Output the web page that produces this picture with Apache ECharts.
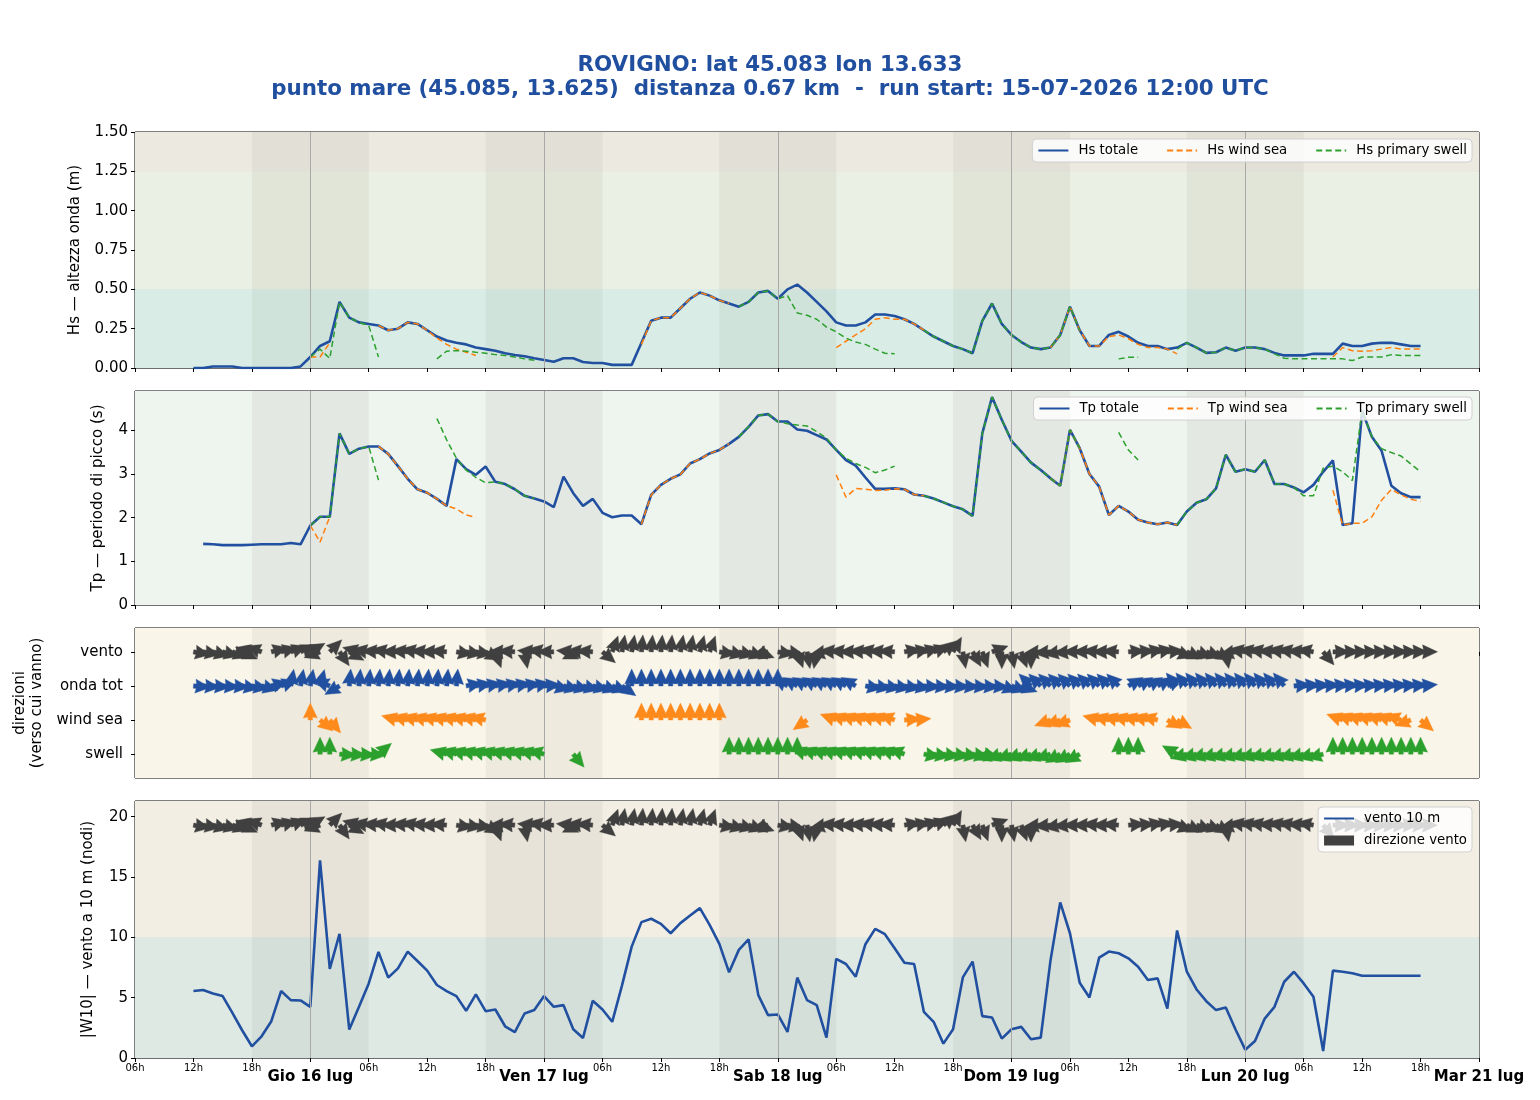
<!DOCTYPE html>
<html><head><meta charset="utf-8">
<script src="https://cdn.jsdelivr.net/npm/echarts@6/dist/echarts.min.js"></script>
<style>html,body{margin:0;padding:0;background:#fff}#c{width:1540px;height:1100px}</style>
</head><body><div id="c"></div>
<script>
const N = null;
// hourly data, index 0 = 15-07-2026 12:00 UTC
const hsTot = [
0.00,0.00,0.01,0.01,0.01,0.00,0.00,0.00,0.00,0.00,0.00,0.01,
0.07,0.14,0.17,0.42,0.32,0.29,0.28,0.27,0.24,0.25,0.29,0.28,
0.24,0.20,0.175,0.16,0.15,0.13,0.12,0.11,0.094,0.083,0.075,0.062,
0.051,0.04,0.062,0.062,0.038,0.032,0.032,0.02,0.02,0.02,0.16,0.30,
0.32,0.32,0.38,0.44,0.48,0.46,0.43,0.41,0.39,0.42,0.48,0.49,
0.44,0.50,0.53,0.48,0.42,0.36,0.29,0.27,0.27,0.29,0.34,0.34,
0.33,0.31,0.28,0.24,0.20,0.17,0.14,0.12,0.094,0.30,0.41,0.28,
0.21,0.165,0.13,0.12,0.13,0.21,0.39,0.24,0.14,0.14,0.21,0.23,
0.20,0.16,0.14,0.14,0.12,0.13,0.16,0.13,0.096,0.10,0.13,0.11,
0.13,0.13,0.12,0.096,0.08,0.08,0.08,0.09,0.09,0.09,0.155,0.14,
0.14,0.155,0.16,0.16,0.15,0.14,0.14];
const hsWind = [
N,N,N,N,N,N,N,N,N,N,N,N,
0.07,0.07,0.16,N,N,N,N,0.27,0.24,0.25,0.29,0.28,
0.24,0.19,0.15,0.12,0.10,0.08,N,N,N,N,N,N,
N,N,N,N,N,N,N,N,N,N,0.15,0.30,
0.32,0.32,0.38,0.44,0.48,0.46,0.43,0.41,N,N,N,N,
N,N,N,0.20,N,N,0.13,0.17,0.21,0.25,0.31,0.32,
0.31,0.31,0.28,0.24,N,N,N,N,N,N,N,N,
N,N,N,N,0.13,0.21,0.39,0.24,0.14,0.14,0.20,0.21,
0.186,0.15,0.13,0.13,0.12,0.09,N,N,N,N,N,N,
N,N,N,N,N,N,N,N,N,0.07,0.13,0.11,
0.107,0.11,0.12,0.13,0.12,0.12,0.12];
const hsSwell = [
N,N,N,N,N,N,N,N,N,N,N,N,
0.07,0.12,0.06,0.42,0.32,0.29,0.27,0.07,N,N,N,N,
N,0.058,0.107,0.11,0.107,0.10,0.094,0.085,0.08,0.07,0.058,0.05,
N,N,N,N,N,N,N,N,N,N,N,N,
N,N,N,N,N,N,N,N,0.39,0.42,0.48,0.49,
0.44,0.46,0.35,0.335,0.31,0.26,0.23,0.19,0.165,0.15,0.12,0.094,
0.09,N,N,0.24,0.20,0.17,0.14,0.12,0.094,0.30,0.41,0.28,
0.21,0.165,0.13,0.12,0.13,0.21,0.39,0.24,N,N,N,0.058,
0.068,0.068,N,N,N,0.12,0.16,0.13,0.096,0.10,0.13,0.11,
0.13,0.13,0.12,0.09,0.062,0.058,0.058,0.058,0.058,0.058,0.058,0.047,
0.07,0.07,0.07,0.085,0.08,0.08,0.08];
const tpTot = [
N,1.40,1.39,1.37,1.37,1.37,1.38,1.39,1.39,1.39,1.42,1.39,
1.82,2.02,2.02,3.93,3.46,3.58,3.63,3.63,3.46,3.18,2.89,2.65,
2.57,2.43,2.27,3.34,3.11,2.98,3.17,2.82,2.77,2.65,2.50,2.44,
2.37,2.24,2.94,2.56,2.27,2.43,2.11,2.01,2.05,2.05,1.85,2.52,
2.75,2.89,2.99,3.24,3.34,3.47,3.55,3.69,3.85,4.08,4.34,4.37,
4.20,4.20,4.02,3.99,3.89,3.79,3.55,3.32,3.19,2.92,2.66,2.66,
2.67,2.65,2.53,2.50,2.44,2.35,2.26,2.19,2.04,3.93,4.76,4.24,
3.76,3.51,3.26,3.09,2.90,2.73,4.01,3.59,3.00,2.71,2.06,2.27,
2.14,1.95,1.89,1.85,1.89,1.83,2.14,2.34,2.42,2.67,3.44,3.05,
3.11,3.05,3.32,2.77,2.77,2.69,2.58,2.75,3.05,3.31,1.83,1.87,
4.45,3.85,3.53,2.73,2.56,2.47,2.47];
const tpWind = [
N,N,N,N,N,N,N,N,N,N,N,N,
1.82,1.44,2.02,N,N,N,N,3.63,3.46,3.18,2.89,2.65,
2.57,2.43,2.27,2.20,2.06,2.01,N,N,N,N,N,N,
N,N,N,N,N,N,N,N,N,N,1.85,2.52,
2.75,2.89,2.99,3.24,3.34,3.47,3.55,3.69,N,N,N,N,
N,N,N,2.6,N,N,2.98,2.47,2.67,2.65,2.62,2.63,
2.66,2.65,2.53,2.50,N,N,N,N,N,N,N,N,
N,N,N,N,2.90,2.73,4.01,3.59,3.00,2.71,2.06,2.27,
2.14,1.95,1.89,1.85,1.89,1.83,N,N,N,N,N,N,
N,N,N,N,N,N,N,N,N,2.63,1.83,1.87,
1.87,2.02,2.40,2.65,2.52,2.42,2.37];
const tpSwell = [
N,N,N,N,N,N,N,N,N,N,N,N,
1.82,2.02,2.02,3.93,3.46,3.58,3.63,2.86,N,N,N,N,
N,4.27,3.78,3.36,3.09,2.92,2.80,2.82,2.77,2.65,2.50,2.44,
N,N,N,N,N,N,N,N,N,N,N,N,
N,N,N,N,N,N,N,N,3.85,4.08,4.34,4.37,
4.20,4.15,4.12,4.10,3.97,3.82,3.55,3.36,3.24,3.15,3.03,3.09,
3.18,N,N,2.50,2.44,2.35,2.26,2.19,2.04,3.93,4.76,4.24,
3.76,3.51,3.26,3.09,2.90,2.73,4.01,3.59,N,N,N,3.95,
3.55,3.32,N,N,N,1.83,2.14,2.34,2.42,2.67,3.44,3.05,
3.11,3.05,3.32,2.77,2.77,2.69,2.50,2.50,3.13,3.18,3.05,2.85,
4.45,3.85,3.58,3.49,3.41,3.23,3.05];
const windSpd = [
5.55,5.63,5.35,5.13,3.74,2.30,0.97,1.80,3.05,5.55,4.80,4.77,
4.24,16.39,7.38,10.29,2.36,4.24,6.18,8.79,6.66,7.43,8.82,8.04,
7.24,6.05,5.55,5.13,3.91,5.27,3.88,4.02,2.63,2.14,3.69,3.97,
5.13,4.24,4.38,2.38,1.66,4.74,4.02,3.00,6.0,9.23,11.26,11.54,
11.12,10.34,11.18,11.81,12.42,11.04,9.46,7.10,8.96,9.84,5.21,3.55,
3.61,2.16,6.66,4.80,4.38,1.69,8.21,7.79,6.74,9.43,10.70,10.26,
9.10,7.90,7.79,3.83,3.00,1.19,2.38,6.68,7.99,3.47,3.36,1.61,
2.38,2.58,1.55,1.69,8.07,12.90,10.34,6.24,5.02,8.32,8.82,8.68,
8.26,7.57,6.46,6.60,4.10,10.57,7.15,5.68,4.71,3.97,4.19,2.36,
0.69,1.41,3.27,4.24,6.32,7.15,6.18,5.07,0.58,7.24,7.15,7.02,
6.82,6.82,6.82,6.82,6.82,6.82,6.82];
// directions "verso cui vanno", compass degrees (0 = N, 90 = E)
const windDir = [
100,100,105,105,110,115,285,290,75,75,70,65,
60,250,45,145,120,285,280,275,280,270,275,280,
275,270,275,100,100,100,120,160,270,275,170,275,
280,270,115,275,275,275,130,20,10,10,5,5,
5,5,10,10,15,20,100,105,105,110,110,255,
100,100,160,170,190,260,275,275,270,275,280,275,
275,80,80,75,70,50,30,170,150,160,70,180,
170,160,180,265,265,260,265,270,270,275,270,275,
85,85,80,80,85,110,115,110,110,120,170,260,
280,280,280,275,280,280,275,280,140,90,90,90,
90,90,90,90,90,90,90];
const waveDir = [
95,95,95,95,95,100,100,105,75,70,10,10,
10,15,290,240,5,5,5,5,5,5,5,5,
5,5,5,5,80,80,80,80,80,80,80,80,
85,105,105,105,105,105,110,110,125,0,0,0,
0,0,0,0,0,0,0,0,0,0,0,0,
0,300,300,300,300,300,300,300,300,100,100,100,
100,100,100,95,95,95,95,95,95,95,95,110,
110,110,315,315,315,315,315,315,315,315,315,315,
60,60,60,60,60,320,320,320,320,320,320,320,
320,320,320,320,320,85,85,85,85,85,85,85,
85,85,85,85,85,85,85];
const seaDir = [
N,N,N,N,N,N,N,N,N,N,N,N,
0,130,140,N,N,N,N,N,N,285,285,285,
285,285,285,285,285,285,285,N,N,N,N,N,
N,N,N,N,N,N,N,N,N,N,0,0,
0,0,0,0,0,0,0,N,N,N,N,N,
N,N,N,235,N,N,290,290,290,290,290,290,
290,85,85,N,N,N,N,N,N,N,N,N,
N,N,N,N,250,250,250,N,N,285,285,285,
285,285,285,285,120,120,N,N,N,N,N,N,
N,N,N,N,N,N,N,N,N,N,290,290,
290,290,290,290,290,250,130];
const swellDir = [
N,N,N,N,N,N,N,N,N,N,N,N,
N,0,0,95,95,95,95,50,N,N,N,N,
N,N,285,285,285,285,285,285,285,285,285,285,
285,N,N,140,N,N,N,N,N,N,N,N,
N,N,N,N,N,N,N,0,0,0,0,0,
0,0,0,290,290,290,290,290,290,290,290,290,
290,290,N,100,100,100,100,100,100,100,250,250,
250,250,250,250,250,240,240,240,N,N,N,0,
0,0,N,N,N,300,255,255,255,255,255,255,
255,255,255,255,255,255,255,255,255,0,0,0,
0,0,0,0,0,0,0];
const dirRowLabels = ['vento', 'onda tot', 'wind sea', 'swell'];
const xTickHours = [0,6,12,18,24,30,36,42,48,54,60,66,72,78,84,90,96,102,108,114,120,126,132,138];
const xTickLabels = ['06h','12h','18h','Gio 16 lug','06h','12h','18h','Ven 17 lug','06h','12h','18h','Sab 18 lug',
  '06h','12h','18h','Dom 19 lug','06h','12h','18h','Lun 20 lug','06h','12h','18h','Mar 21 lug'];
const nightBands = [[12,24],[36,48],[60,72],[84,96],[108,120]];
const dayLines = [18,42,66,90,114];

// hours since 15-07 06:00 UTC (axis start)
const hours = hsTot.map((_, i) => 6 + i);

const FONT = 'DejaVu Sans';
const BLUE = '#2150a0', ORANGE = '#ff7f0e', GREEN = '#2ca02c', DARK = '#404040';
const pair = arr => arr.map((v, i) => [hours[i], v === null ? '-' : v]);
const ARROW = [[0,-2.2],[3,-2.2],[2,-7],[17,0],[2,7],[3,2.2],[0,2.2]];
function arrowRender(color) {
  return (params, api) => {
    const p = api.coord([api.value(0), api.value(1)]);
    const a = api.value(2) * Math.PI / 180;
    const ux = Math.sin(a), uy = -Math.cos(a);
    const px = -uy, py = ux;
    const pts = ARROW.map(([l, w]) => [p[0] + l * ux + w * px, p[1] + l * uy + w * py]);
    return {type: 'polygon', shape: {points: pts}, style: {fill: color, stroke: color, lineWidth: 0.4}};
  };
}
const dirData = (arr, row) => arr.map((d, i) => d === null ? null : [hours[i], row, d]).filter(Boolean);

const grids = [
  {left: 135, right: 61, top: 132, height: 236},
  {left: 135, right: 61, top: 391, height: 214},
  {left: 135, right: 61, top: 628, height: 150},
  {left: 135, right: 61, top: 801, height: 257}
].map(g => Object.assign(g, {show: true, borderColor: '#000', borderWidth: 1, backgroundColor: 'transparent'}));

const xAxes = grids.map((g, i) => ({
  type: 'value', gridIndex: i, min: 0, max: 138, interval: 6,
  axisLine: {show: false},
  axisTick: {show: true, length: 4, lineStyle: {color: '#000'}},
  splitLine: {show: false},
  axisLabel: {
    show: i === 3, showMinLabel: true, showMaxLabel: true, margin: 5,
    formatter: v => {
      const k = xTickHours.indexOf(Math.round(v));
      if (k < 0) return '';
      const s = xTickLabels[k];
      return s.endsWith('h') ? '{h|' + s + '}' : '{d|' + s + '}';
    },
    rich: {
      h: {fontSize: 10, fontFamily: FONT, color: '#000'},
      d: {fontSize: 15, fontWeight: 'bold', fontFamily: FONT, color: '#000', padding: [7, 0, 0, 0]}
    }
  }
}));

const gridLine = {show: true, lineStyle: {color: 'rgba(0,0,0,0.13)', width: 1}};
const yName = {fontSize: 15, fontFamily: FONT, color: '#000'};
const yLab = {fontSize: 15, fontFamily: FONT, color: '#000'};
const yAxes = [
  {type: 'value', gridIndex: 0, min: 0, max: 1.5, interval: 0.25, axisLine: {show: false},
   axisTick: {show: true, length: 4, lineStyle: {color: '#000'}}, splitLine: gridLine,
   axisLabel: {formatter: v => v.toFixed(2), ...yLab, margin: 7},
   name: 'Hs — altezza onda (m)', nameLocation: 'middle', nameRotate: 90, nameGap: 52, nameTextStyle: yName},
  {type: 'value', gridIndex: 1, min: 0, max: 4.9, interval: 1, axisLine: {show: false},
   axisTick: {show: true, length: 4, lineStyle: {color: '#000'}}, splitLine: gridLine,
   axisLabel: {formatter: v => Number.isInteger(v) ? String(v) : '', ...yLab, margin: 7, showMaxLabel: false},
   name: 'Tp — periodo di picco (s)', nameLocation: 'middle', nameRotate: 90, nameGap: 29, nameTextStyle: yName},
  {type: 'value', gridIndex: 2, min: -0.7, max: 3.7, inverse: true, axisLine: {show: false},
   axisTick: {show: true, length: 4, lineStyle: {color: '#000'}, customValues: [0,1,2,3]}, splitLine: {show: false},
   axisLabel: {customValues: [0,1,2,3], formatter: v => dirRowLabels[Math.round(v)] || '', ...yLab, margin: 12},
   name: 'direzioni\n(verso cui vanno)', nameLocation: 'middle', nameRotate: 90, nameGap: 81, nameTextStyle: {...yName, lineHeight: 17}},
  {type: 'value', gridIndex: 3, min: 0, max: 21.3, interval: 5, axisLine: {show: false},
   axisTick: {show: true, length: 4, lineStyle: {color: '#000'}}, splitLine: gridLine,
   axisLabel: {formatter: v => (v % 5 === 0) ? String(v) : '', ...yLab, margin: 7, showMaxLabel: false},
   name: '|W10| — vento a 10 m (nodi)', nameLocation: 'middle', nameRotate: 90, nameGap: 39, nameTextStyle: yName}
];

const NIGHT = 'rgba(60,60,40,0.055)';
function bgSeries(gi, hBands) {
  const areas = hBands.map(b => [{yAxis: b[0], xAxis: 0, itemStyle: {color: b[2]}}, {yAxis: b[1], xAxis: 138}]);
  nightBands.forEach(n => areas.push([{xAxis: n[0], yAxis: hBands[0][0], itemStyle: {color: NIGHT}}, {xAxis: n[1], yAxis: hBands[hBands.length - 1][1]}]));
  return [
    {type: 'line', xAxisIndex: gi, yAxisIndex: gi, data: [], z: -2, silent: true, symbol: 'none',
     markArea: {silent: true, data: areas, label: {show: false}}},
    {type: 'line', xAxisIndex: gi, yAxisIndex: gi, data: [], z: -1, silent: true, symbol: 'none',
     markLine: {silent: true, symbol: 'none', label: {show: false},
       lineStyle: {color: '#a9a9a9', width: 1, type: 'solid'}, data: dayLines.map(d => ({xAxis: d}))}}
  ];
}

const lineS = (name, gi, arr, color, dashed) => ({
  name, type: 'line', xAxisIndex: gi, yAxisIndex: gi, data: pair(arr), symbol: 'none', connectNulls: false,
  lineStyle: dashed ? {color, width: 1.5, type: [6, 3.5]} : {color, width: 2.6},
  itemStyle: {color}, z: dashed ? 4 : 3, animation: false
});
const arrowS = (name, gi, data, color) => ({
  name, type: 'custom', xAxisIndex: gi, yAxisIndex: gi, data, renderItem: arrowRender(color),
  itemStyle: {color}, clip: false, animation: false, z: 5
});

const series = [
  ...bgSeries(0, [[0, 0.5, '#d9ede6'], [0.5, 1.25, '#eaf0e3'], [1.25, 1.5, '#ece9e1']]),
  ...bgSeries(1, [[0, 4.9, '#eef4ee']]),
  ...bgSeries(2, [[-0.7, 3.7, '#f9f5e9']]),
  ...bgSeries(3, [[0, 10, '#dfe9e4'], [10, 21.3, '#f3eee3']]),
  lineS('Hs totale', 0, hsTot, BLUE, false),
  lineS('Hs wind sea', 0, hsWind, ORANGE, true),
  lineS('Hs primary swell', 0, hsSwell, GREEN, true),
  lineS('Tp totale', 1, tpTot, BLUE, false),
  lineS('Tp wind sea', 1, tpWind, ORANGE, true),
  lineS('Tp primary swell', 1, tpSwell, GREEN, true),
  arrowS('dir vento', 2, dirData(windDir, 0), DARK),
  arrowS('dir onda', 2, dirData(waveDir, 1), BLUE),
  arrowS('dir wind sea', 2, dirData(seaDir, 2), '#ff8a1c'),
  arrowS('dir swell', 2, dirData(swellDir, 3), GREEN),
  lineS('vento 10 m', 3, windSpd, BLUE, false),
  arrowS('direzione vento', 3, dirData(windDir, 19.3), DARK)
];

const legBase = {
  orient: 'horizontal', itemWidth: 30, itemHeight: 12, itemGap: 28, z: 20,
  backgroundColor: 'rgba(255,255,255,0.8)', borderColor: '#d0d0d0', borderWidth: 1, borderRadius: 4,
  padding: [5, 5], itemStyle: {opacity: 0},
  textStyle: {fontSize: 13.3, fontFamily: FONT, color: '#000', padding: [0, 0, 0, 5]}
};
const option = {
  animation: false,
  backgroundColor: '#ffffff',
  title: {
    text: 'ROVIGNO: lat 45.083 lon 13.633\npunto mare (45.085, 13.625)  distanza 0.67 km  -  run start: 15-07-2026 12:00 UTC',
    left: 'center', top: 48,
    textStyle: {fontSize: 21.4, fontWeight: 'bold', color: '#214f9f', lineHeight: 24, fontFamily: FONT}
  },
  legend: [
    {...legBase, right: 68, top: 139, data: ['Hs totale', 'Hs wind sea', 'Hs primary swell']},
    {...legBase, right: 68, top: 397, data: ['Tp totale', 'Tp wind sea', 'Tp primary swell']},
    {...legBase, orient: 'vertical', right: 68, top: 807, itemGap: 9, itemHeight: 10, itemStyle: undefined,
     data: [{name: 'vento 10 m', itemStyle: {opacity: 0}}, {name: 'direzione vento', icon: 'rect', itemStyle: {color: DARK}}]}
  ],
  grid: grids,
  xAxis: xAxes,
  yAxis: yAxes,
  series
};
const chart = echarts.init(document.getElementById('c'), null, {renderer: 'canvas'});
chart.setOption(option);
</script></body></html>
